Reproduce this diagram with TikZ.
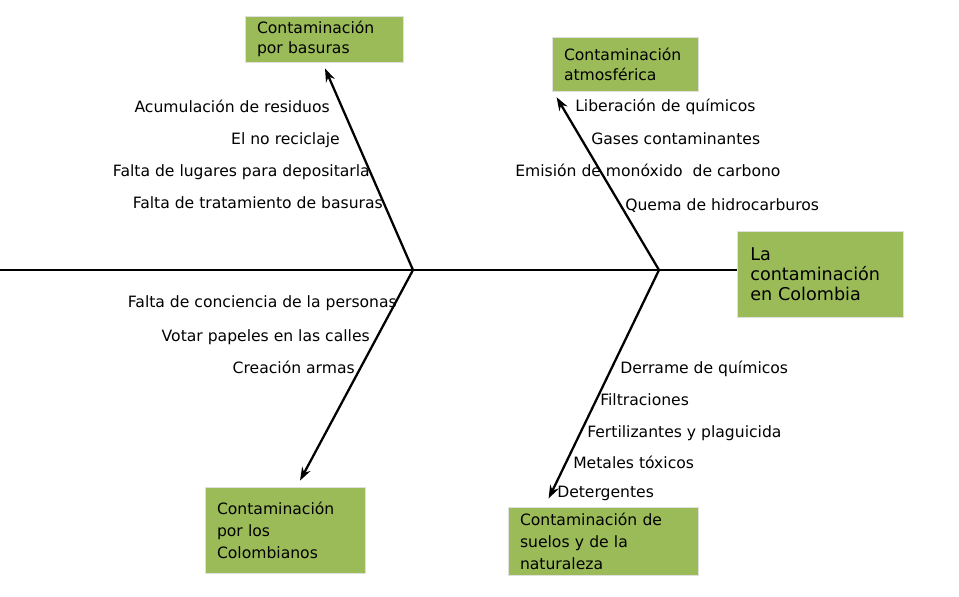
\documentclass[tikz,border=0pt]{standalone}
\usepackage{fontspec}
\setmainfont{DejaVu Sans}
\usetikzlibrary{calc, positioning, arrows.meta}
\definecolor{verdecaja}{RGB}{155,187,89}

\begin{document}
\begin{tikzpicture}[
  x=0.75pt, y=-0.75pt,
  font=\fontsize{11.7}{15}\selectfont,
  caja/.style={draw=black!12, line width=0.6pt, fill=verdecaja,
               align=left, inner xsep=9pt, inner ysep=2pt},
  cabeza/.style={caja, inner xsep=10pt, font=\fontsize{13.2}{15}\selectfont},
  espina/.style={-{Stealth[length=10pt, width=7pt]}, line width=1.7pt},
  lbl/.style={inner sep=0pt}
]
\useasboundingbox (0,0) rectangle (959,596);

% efecto y categorias
\node[cabeza, text width=104.5pt, minimum height=64pt]   (efecto)      at (820,274.5) {La\\contaminación\\en Colombia};
\node[caja,   text width=100.5pt, minimum height=34.5pt] (basuras)     at (324,39)    {Contaminación\\por basuras};
\node[caja,   text width=91.5pt,  minimum height=41pt]   (atmosfera)   at (625,64.5)  {Contaminación\\atmosférica};
\node[caja,   text width=102pt,   minimum height=64.5pt,
       font=\fontsize{11.7}{16.5}\selectfont]            (colombianos) at (285,530)   {Contaminación\\por los\\Colombianos};
\node[caja,   text width=124.5pt, minimum height=51pt,
       font=\fontsize{11.7}{16.5}\selectfont]            (suelos)      at (603,541)   {Contaminación de\\suelos y de la\\naturaleza};

% espina central
\coordinate (cola) at (0,270);
\coordinate (j1)   at (413,270);
\coordinate (j2)   at (659,270);
\draw[line width=0.8pt] (cola) -- (cola -| efecto.west);

\draw[espina] (j1) -- ($(basuras.south)+(1,6)$);
\draw[espina] (j2) -- ($(atmosfera.south west)+(5,5)$);
\draw[espina] (j1) -- ($(colombianos.north)+(15,-6)$);
\draw[espina] (j2) -- ($(suelos.north west)+(41,-8)$);

% causas: basuras
\node[lbl, anchor=base east] (b1) at (330,112) {Acumulación de residuos};
\node[lbl, anchor=base east] (b2) at (340,144) {El no reciclaje};
\node[lbl, anchor=base east] (b3) at (370,176) {Falta de lugares para depositarla};
\node[lbl, anchor=base east] (b4) at (383,208) {Falta de tratamiento de basuras};

% causas: atmosferica
\node[lbl, anchor=base west] (a1) at (575,111) {Liberación de químicos};
\node[lbl, anchor=base west] (a2) at (591,144) {Gases contaminantes};
\node[lbl, anchor=base west] (a3) at (515,176) {Emisión de monóxido\ \ de carbono};
\node[lbl, anchor=base west] (a4) at (625,210) {Quema de hidrocarburos};

% causas: colombianos
\node[lbl, anchor=base east] (p1) at (397,307) {Falta de conciencia de la personas};
\node[lbl, anchor=base east] (p2) at (370,341) {Votar papeles en las calles};
\node[lbl, anchor=base east] (p3) at (355,373) {Creación armas};

% causas: suelos
\node[lbl, anchor=base west] (s1) at (620,373) {Derrame de químicos};
\node[lbl, anchor=base west] (s2) at (600,405) {Filtraciones};
\node[lbl, anchor=base west] (s3) at (587,437) {Fertilizantes y plaguicida};
\node[lbl, anchor=base west] (s4) at (573,468) {Metales tóxicos};
\node[lbl, anchor=base west] (s5) at (557,497) {Detergentes};
\end{tikzpicture}
\end{document}
